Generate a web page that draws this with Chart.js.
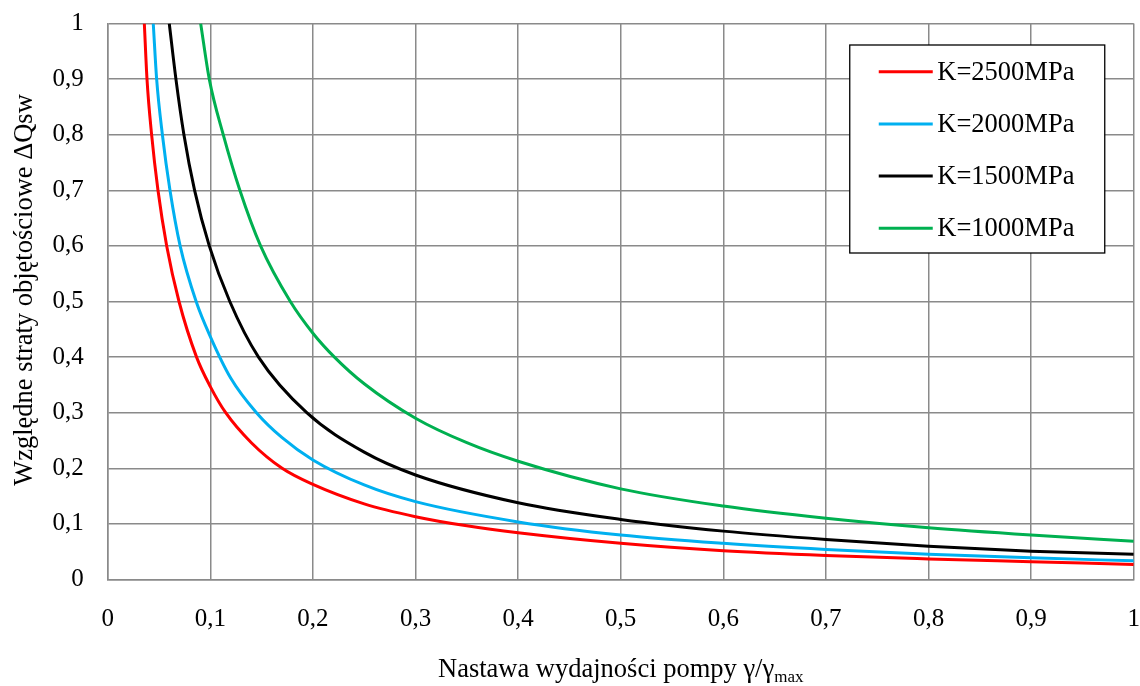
<!DOCTYPE html>
<html>
<head>
<meta charset="utf-8">
<script src="https://cdn.jsdelivr.net/npm/chart.js@4.4.1/dist/chart.umd.min.js"></script>
<style>
html,body{margin:0;padding:0;background:#fff;}
#wrap{width:1140px;height:686px;position:relative;}
</style>
</head>
<body>
<div id="wrap"><canvas id="c" width="1140" height="686"></canvas></div>
<script>
const seriesLabels = ['K=2500MPa', 'K=2000MPa', 'K=1500MPa', 'K=1000MPa'];
const seriesColors = ['#FF0000', '#00B0F0', '#000000', '#00B050'];

const x2500 = [0.0357, 0.0383, 0.0428, 0.049, 0.0575, 0.0695, 0.0866, 0.100, 0.115, 0.140, 0.170, 0.200, 0.250, 0.300, 0.350, 0.400, 0.500, 0.600, 0.700, 0.800, 0.900, 1.000];
const y2500 = [1.000, 0.900, 0.800, 0.700, 0.600, 0.500, 0.400, 0.347, 0.300, 0.246, 0.200, 0.171, 0.136, 0.113, 0.0965, 0.084, 0.065, 0.0515, 0.043, 0.037, 0.032, 0.027];

const x2000 = [0.0444, 0.0477, 0.0533, 0.0607, 0.0706, 0.0862, 0.100, 0.120, 0.145, 0.170, 0.200, 0.250, 0.300, 0.400, 0.500, 0.600, 0.700, 0.800, 0.900, 1.000];
const y2000 = [1.000, 0.900, 0.800, 0.700, 0.600, 0.500, 0.437, 0.362, 0.300, 0.255, 0.215, 0.170, 0.140, 0.1036, 0.080, 0.065, 0.054, 0.0455, 0.039, 0.0335];

const x1500 = [0.060, 0.0665, 0.0743, 0.0847, 0.099, 0.119, 0.147, 0.194, 0.250, 0.300, 0.400, 0.500, 0.600, 0.700, 0.800, 0.900, 1.000];
const y1500 = [1.000, 0.900, 0.800, 0.700, 0.600, 0.500, 0.400, 0.300, 0.229, 0.188, 0.138, 0.108, 0.087, 0.072, 0.060, 0.051, 0.0455];

const x1000 = [0.0906, 0.099, 0.1126, 0.1288, 0.149, 0.178, 0.200, 0.221, 0.250, 0.300, 0.350, 0.400, 0.500, 0.600, 0.700, 0.800, 0.900, 1.000];
const y1000 = [1.000, 0.900, 0.800, 0.700, 0.600, 0.500, 0.443, 0.400, 0.352, 0.290, 0.246, 0.2126, 0.163, 0.132, 0.110, 0.093, 0.080, 0.069];

const xTickLabels = ['0', '0,1', '0,2', '0,3', '0,4', '0,5', '0,6', '0,7', '0,8', '0,9', '1'];
const yTickLabels = ['0', '0,1', '0,2', '0,3', '0,4', '0,5', '0,6', '0,7', '0,8', '0,9', '1'];

const xTitleMain = 'Nastawa wydajności pompy γ/γ';
const xTitleSub = 'max';
const yTitle = 'Względne straty objętościowe ΔQsw';

const FONT = "'Liberation Serif', 'Times New Roman', serif";

function pts(xs, ys) { return xs.map((x, i) => ({ x: x, y: ys[i] })); }

const allX = [x2500, x2000, x1500, x1000];
const allY = [y2500, y2000, y1500, y1000];

const datasets = seriesLabels.map((lab, i) => ({
  label: lab,
  data: pts(allX[i], allY[i]),
  borderColor: seriesColors[i],
  backgroundColor: seriesColors[i],
  borderWidth: 3,
  pointRadius: 0,
  showLine: true,
  cubicInterpolationMode: 'monotone',
  fill: false
}));

const extraText = {
  id: 'extraText',
  afterDraw(chart) {
    const ctx = chart.ctx;
    const ca = chart.chartArea;
    ctx.save();
    // x title with subscript
    ctx.fillStyle = '#000';
    ctx.textBaseline = 'alphabetic';
    ctx.font = '26.5px ' + FONT;
    const wMain = ctx.measureText(xTitleMain).width;
    ctx.font = '17px ' + FONT;
    const wSub = ctx.measureText(xTitleSub).width;
    const total = wMain + wSub;
    const cx = (ca.left + ca.right) / 2;
    const x0 = cx - total / 2;
    const base = 677;
    ctx.font = '26.5px ' + FONT;
    ctx.textAlign = 'left';
    ctx.fillText(xTitleMain, x0, base);
    ctx.font = '17px ' + FONT;
    ctx.fillText(xTitleSub, x0 + wMain, base + 5);

    // y title
    ctx.save();
    ctx.translate(25, 290);
    ctx.rotate(-Math.PI / 2);
    ctx.font = '26.5px ' + FONT;
    ctx.textAlign = 'center';
    ctx.textBaseline = 'middle';
    ctx.fillText(yTitle, 0, 0);
    ctx.restore();

    // legend box
    const bx = ca.right - 284, by = ca.top + 21.5, bw = 255, bh = 208;
    ctx.fillStyle = '#fff';
    ctx.fillRect(bx, by, bw, bh);
    ctx.strokeStyle = '#000';
    ctx.lineWidth = 1.3;
    ctx.strokeRect(bx, by, bw, bh);
    chart.data.datasets.forEach((ds, i) => {
      const ry = by + 26.7 + i * 52.2;
      ctx.strokeStyle = ds.borderColor;
      ctx.lineWidth = 3;
      ctx.beginPath();
      ctx.moveTo(bx + 29, ry);
      ctx.lineTo(bx + 83, ry);
      ctx.stroke();
      ctx.fillStyle = '#000';
      ctx.font = '26.5px ' + FONT;
      ctx.textAlign = 'left';
      ctx.textBaseline = 'middle';
      ctx.fillText(ds.label, bx + 87.5, ry + 1);
    });
    ctx.restore();
  }
};

new Chart(document.getElementById('c'), {
  type: 'scatter',
  data: { datasets: datasets },
  plugins: [extraText],
  options: {
    responsive: false,
    animation: false,
    devicePixelRatio: 1,
    layout: { padding: { left: 8, top: 23.5, right: 6, bottom: 0 } },
    plugins: {
      legend: { display: false },
      tooltip: { enabled: false },
      title: { display: false }
    },
    scales: {
      x: {
        type: 'linear',
        min: 0, max: 1,
        afterFit(s) { s.height = 106.5; },
        afterBuildTicks(s) { s.ticks = xTickLabels.map((_, i) => ({ value: i / 10 })); },
        ticks: {
          padding: 0,
          color: '#000',
          font: { family: FONT, size: 25 },
          callback: (v, i) => xTickLabels[i]
        },
        grid: { color: '#8a8a8a', lineWidth: 1.5, drawTicks: true, tickLength: 25, tickColor: 'rgba(0,0,0,0)' },
        border: { color: '#8a8a8a', width: 1.5 },
        title: { display: false }
      },
      y: {
        type: 'linear',
        min: 0, max: 1,
        afterFit(s) { s.width = 99.7; },
        afterBuildTicks(s) { s.ticks = yTickLabels.map((_, i) => ({ value: i / 10 })); },
        ticks: {
          padding: 0,
          color: '#000',
          font: { family: FONT, size: 25 },
          callback: (v, i) => yTickLabels[i]
        },
        grid: { color: '#8a8a8a', lineWidth: 1.5, drawTicks: true, tickLength: 24, tickColor: 'rgba(0,0,0,0)' },
        border: { color: '#8a8a8a', width: 1.5 },
        title: { display: false }
      }
    }
  }
});
</script>
</body>
</html>
